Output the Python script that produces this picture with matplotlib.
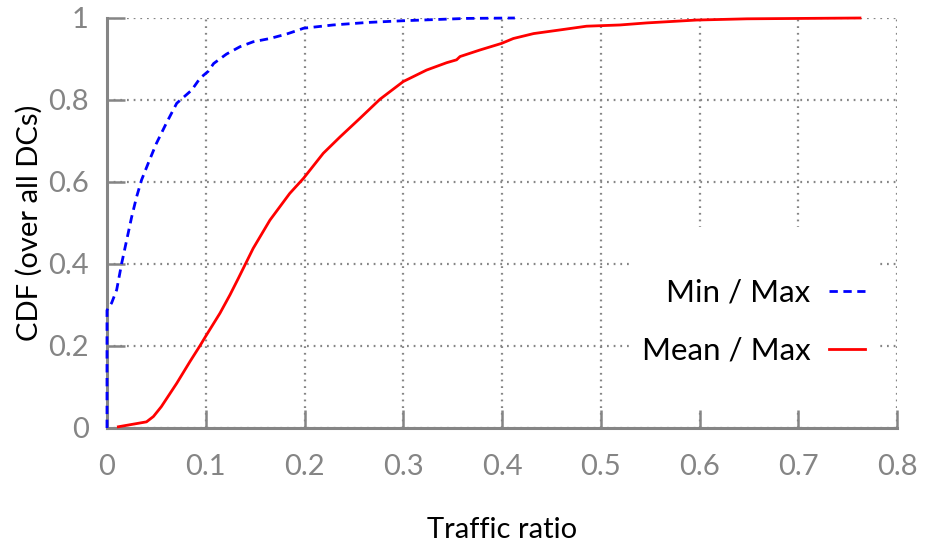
import matplotlib
matplotlib.use("Agg")
import matplotlib.pyplot as plt
from matplotlib.patches import Rectangle

plt.rcParams['font.family'] = ['Lato', 'DejaVu Sans']

# CDF of per-DC traffic ratios
min_max_x = [0.0, 0.0, 0.0047, 0.0098, 0.0149, 0.0199, 0.025, 0.030, 0.035, 0.0418,
             0.050, 0.060, 0.0706, 0.0857, 0.0942, 0.1025, 0.108, 0.121, 0.1347,
             0.148, 0.165, 0.182, 0.192, 0.199, 0.229, 0.263, 0.297, 0.330, 0.364, 0.413]
min_max_y = [0.0, 0.287, 0.305, 0.337, 0.402, 0.458, 0.515, 0.564, 0.605, 0.646,
             0.694, 0.743, 0.792, 0.824, 0.853, 0.870, 0.889, 0.912, 0.930,
             0.942, 0.950, 0.961, 0.969, 0.975, 0.983, 0.989, 0.993, 0.996, 0.999, 1.0]

mean_max_x = [0.0115, 0.040, 0.047, 0.055, 0.0706, 0.084, 0.094, 0.100, 0.1144, 0.1246,
              0.133, 0.148, 0.165, 0.185, 0.199, 0.219, 0.236, 0.256, 0.2765,
              0.300, 0.3236, 0.344, 0.354, 0.3575, 0.3777, 0.3995, 0.4115, 0.432,
              0.462, 0.4856, 0.5195, 0.5465, 0.597, 0.648, 0.7625]
mean_max_y = [0.003, 0.015, 0.028, 0.052, 0.109, 0.162, 0.200, 0.224, 0.280, 0.325,
              0.365, 0.438, 0.507, 0.572, 0.609, 0.670, 0.710, 0.755, 0.802,
              0.845, 0.873, 0.891, 0.898, 0.906, 0.922, 0.938, 0.950, 0.962,
              0.972, 0.980, 0.983, 0.988, 0.995, 0.998, 1.0]

x_ticks = [0, 0.1, 0.2, 0.3, 0.4, 0.5, 0.6, 0.7, 0.8]
x_tick_labels = ['0', '0.1', '0.2', '0.3', '0.4', '0.5', '0.6', '0.7', '0.8']
y_ticks = [0, 0.2, 0.4, 0.6, 0.8, 1.0]
y_tick_labels = ['0', '0.2', '0.4', '0.6', '0.8', '1']

GRAY = '#858585'

fig = plt.figure(figsize=(9.27, 5.52), dpi=100)
ax = fig.add_axes([107 / 927, 124 / 552, 790 / 927, 410 / 552])

ax.set_xlim(0, 0.8)
ax.set_ylim(0, 1)

ax.set_xticks(x_ticks)
ax.set_xticklabels(x_tick_labels)
ax.set_yticks(y_ticks)
ax.set_yticklabels(y_tick_labels)

for side in ['top', 'right']:
    ax.spines[side].set_visible(False)
for side in ['left', 'bottom']:
    ax.spines[side].set_color(GRAY)
    ax.spines[side].set_linewidth(2.2)

ax.tick_params(axis='both', direction='in', length=13, width=1.8, color=GRAY,
               labelcolor=GRAY, labelsize=21)
ax.tick_params(axis='x', pad=19)
ax.tick_params(axis='y', pad=13)

ax.grid(True, color=GRAY, linestyle=(0, (0.8, 2.2)), linewidth=1.6)
ax.set_axisbelow(False)

# blank key area over the grid
ax.add_patch(Rectangle((0.663, 0.045), 0.313, 0.445, transform=ax.transAxes,
                       facecolor='white', edgecolor='none', zorder=2.6))

ax.plot(min_max_x, min_max_y, color='#0000ff', linewidth=2.0,
        linestyle=(0, (3.0, 2.0)), label='Min / Max', zorder=3, clip_on=False)
ax.plot(mean_max_x, mean_max_y, color='#ff0000', linewidth=2.0,
        label='Mean / Max', zorder=3, clip_on=False)

leg = ax.legend(loc='center right', bbox_to_anchor=(0.96, 0.259), frameon=False,
                markerfirst=False, fontsize=22.5, handlelength=1.15, handletextpad=0.6,
                labelspacing=0.95, borderaxespad=0, borderpad=0)
leg.set_zorder(4)

ax.set_xlabel('Traffic ratio', fontsize=21, color='black', labelpad=26)
ax.set_ylabel('CDF (over all DCs)', fontsize=21, color='black', labelpad=4)

fig.savefig('out.png', dpi=100)
